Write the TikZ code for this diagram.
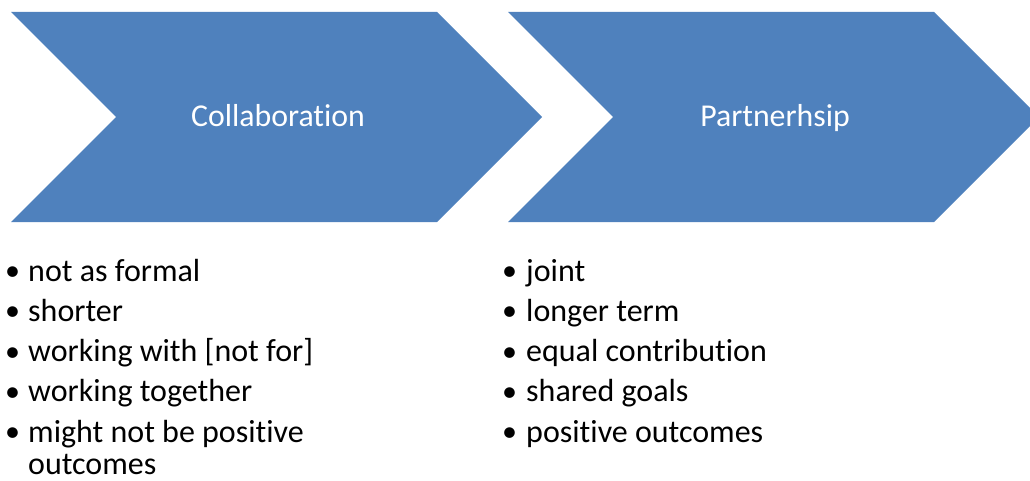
\documentclass[tikz,border=0pt]{standalone}
\usepackage{fontspec}
\setmainfont{Carlito}[Ligatures=NoCommon]
\usepackage{xcolor}
\usepackage{tikz}
\usetikzlibrary{positioning}
\definecolor{chevronblue}{HTML}{4F81BD}
\tikzset{
 chevron/.style={fill=chevronblue},
 title/.style={anchor=base,text=white,inner sep=0pt,font=\fontsize{31.8}{36}\selectfont},
 dotmark/.style={anchor=base west,inner sep=0pt,font=\fontsize{30}{33}\selectfont},
 itemtext/.style={anchor=base west,inner sep=0pt,align=left,font=\fontsize{32}{32.3}\selectfont},
}

\begin{document}
\begin{tikzpicture}[x=1pt,y=-1pt]
 \useasboundingbox (0,0) rectangle (1030,481);
 \fill[chevron] (11,12) -- (437,12) -- (542,117) -- (437,222) -- (11,222) -- (116,117) -- cycle;
 \fill[chevron] (508,12) -- (934,12) -- (1039,117) -- (934,222) -- (508,222) -- (613,117) -- cycle;
 \node[title] (collab) at (278,127) {Collaboration};
 \node[title] (partner) at (775,127) {Partnerhsip};

 \node[dotmark] (cdot1) at (5,280.5) {•};
 \node[itemtext] (citem1) at (28,281) {not as formal};
 \node[dotmark] (cdot2) at (5,320.8) {•};
 \node[itemtext] (citem2) at (28,321.3) {shorter};
 \node[dotmark] (cdot3) at (5,361.1) {•};
 \node[itemtext] (citem3) at (28,361.6) {working with [not for]};
 \node[dotmark] (cdot4) at (5,401.4) {•};
 \node[itemtext] (citem4) at (28,401.9) {working together};
 \node[dotmark] (cdot5) at (5,441.7) {•};
 \node[itemtext] (citem5) at (28,474.5) {might not be positive\\outcomes};

 \node[dotmark] (pdot1) at (502,280.5) {•};
 \node[itemtext] (pitem1) at (526,281) {joint};
 \node[dotmark] (pdot2) at (502,320.8) {•};
 \node[itemtext] (pitem2) at (526,321.3) {longer term};
 \node[dotmark] (pdot3) at (502,361.1) {•};
 \node[itemtext] (pitem3) at (526,361.6) {equal contribution};
 \node[dotmark] (pdot4) at (502,401.4) {•};
 \node[itemtext] (pitem4) at (526,401.9) {shared goals};
 \node[dotmark] (pdot5) at (502,441.7) {•};
 \node[itemtext] (pitem5) at (526,442.2) {positive outcomes};
\end{tikzpicture}
\end{document}
